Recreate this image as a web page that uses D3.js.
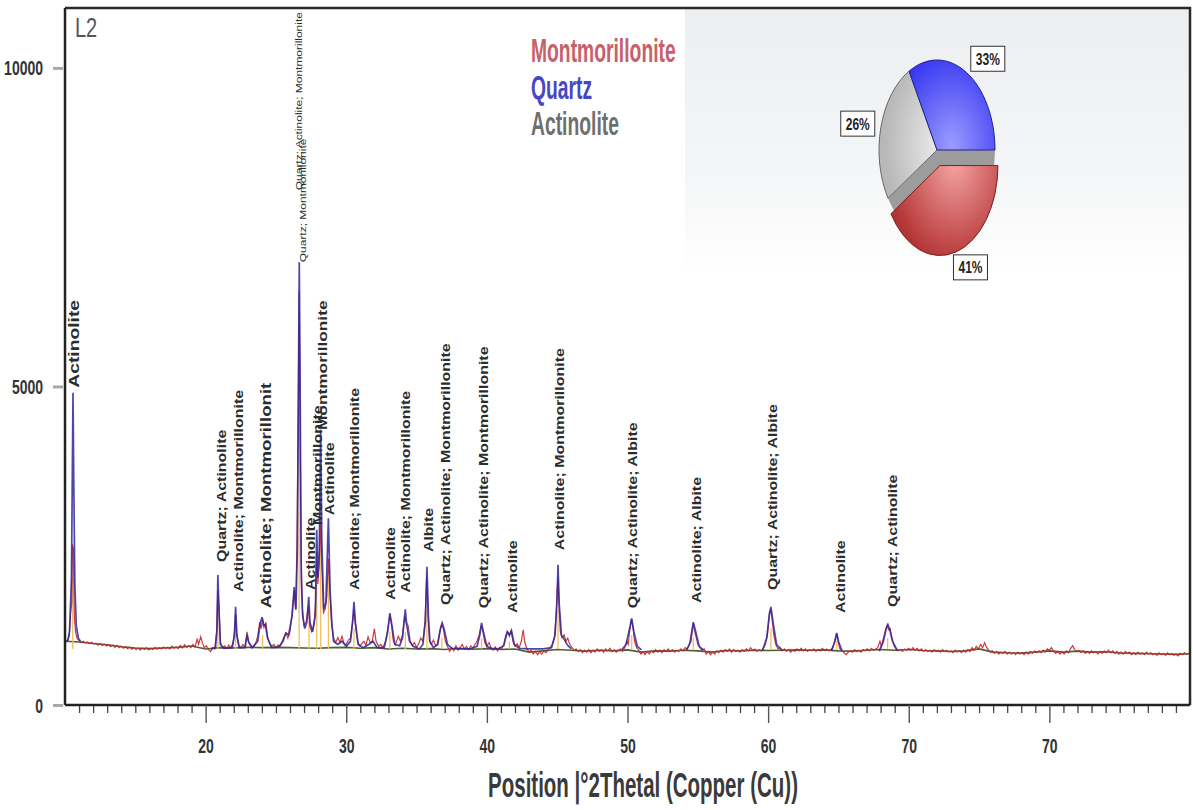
<!DOCTYPE html>
<html>
<head>
<meta charset="utf-8">
<script src="https://cdnjs.cloudflare.com/ajax/libs/d3/7.8.5/d3.min.js"></script>
<style>
body { margin: 0; background: #fff; }
svg { display: block; }
</style>
</head>
<body>
<div id="chart"></div>
<script>
// measured pattern (red), [2theta, counts]
var observed = [
  [10.0,995],[10.15,1010],[10.3,1080],[10.4,1450],[10.48,1600],[10.53,2520],[10.6,2450],[10.66,1400],[10.75,1150],[10.85,1050],
  [11.0,1010],[11.15,985],[11.3,1000],[11.45,975],[11.6,990],[11.75,960],[11.9,985],[12.05,955],[12.2,970],[12.35,940],
  [12.5,965],[12.65,935],[12.8,955],[12.95,925],[13.1,950],[13.25,915],[13.4,940],[13.55,905],[13.7,935],[13.85,900],
  [14.0,925],[14.15,890],[14.3,915],[14.45,885],[14.6,910],[14.75,875],[14.9,900],[15.05,870],[15.2,895],[15.35,865],
  [15.5,890],[15.65,870],[15.8,900],[15.95,865],[16.1,890],[16.25,870],[16.4,905],[16.55,875],[16.7,900],[16.85,880],
  [17.0,910],[17.15,885],[17.3,905],[17.45,880],[17.6,925],[17.75,890],[17.9,915],[18.05,885],[18.2,935],[18.35,895],
  [18.5,945],[18.65,905],[18.8,930],[18.95,900],[19.1,950],[19.25,915],[19.4,1040],[19.5,950],[19.65,1070],[19.75,990],
  [19.9,900],[20.05,930],[20.2,870],[20.35,840],[20.5,900],[20.65,880],[20.78,1150],[20.87,1800],[20.95,1550],[21.05,980],
  [21.2,900],[21.35,930],[21.5,890],[21.65,940],[21.8,900],[21.95,980],[22.05,1150],[22.13,1420],[22.22,1080],[22.35,920],
  [22.5,900],[22.65,950],[22.8,910],[22.95,1150],[23.05,980],[23.2,930],[23.4,900],[23.55,960],[23.7,1080],[23.85,1300],
  [23.95,1200],[24.05,1350],[24.15,1220],[24.28,1300],[24.4,1080],[24.55,960],[24.7,920],[24.85,950],[25.0,900],[25.15,940],
  [25.3,920],[25.45,1000],[25.6,1080],[25.72,1130],[25.85,1050],[26.0,1150],[26.15,1450],[26.3,1800],[26.4,1500],[26.5,2600],
  [26.58,4500],[26.65,6500],[26.71,4800],[26.78,2500],[26.88,1500],[27.0,1250],[27.15,1300],[27.3,1550],[27.4,1250],[27.55,1150],
  [27.7,1250],[27.82,1600],[27.9,2400],[27.98,1900],[28.08,2200],[28.18,2900],[28.26,2200],[28.38,1450],[28.5,1500],[28.62,1700],
  [28.73,2300],[28.85,1700],[28.97,1250],[29.1,1050],[29.25,980],[29.4,1060],[29.55,980],[29.7,1080],[29.85,960],[30.0,950],
  [30.15,1020],[30.3,1050],[30.42,1250],[30.55,1500],[30.65,1250],[30.8,1000],[30.95,930],[31.1,960],[31.25,1000],[31.4,940],
  [31.55,1070],[31.7,980],[31.85,1000],[32.0,1200],[32.12,1000],[32.3,920],[32.45,950],[32.6,900],[32.8,1000],[32.95,1200],
  [33.1,1420],[33.22,1250],[33.35,1000],[33.5,950],[33.7,1080],[33.85,1000],[34.0,1100],[34.15,1400],[34.25,1300],[34.4,1250],
  [34.55,1000],[34.7,930],[34.85,980],[35.0,900],[35.15,960],[35.3,1050],[35.45,1000],[35.6,1300],[35.72,2000],[35.82,1400],
  [35.92,1000],[36.05,950],[36.2,1020],[36.35,930],[36.5,960],[36.65,1150],[36.78,1260],[36.9,1200],[37.05,1000],[37.2,920],
  [37.35,840],[37.5,900],[37.65,850],[37.8,930],[37.95,860],[38.1,900],[38.25,950],[38.4,880],[38.55,920],[38.7,870],
  [38.85,930],[39.0,890],[39.15,950],[39.3,1000],[39.45,1100],[39.6,1250],[39.72,1150],[39.85,980],[40.0,920],[40.15,980],
  [40.3,900],[40.45,860],[40.6,910],[40.75,850],[40.9,900],[41.05,880],[41.2,950],[41.35,1100],[41.48,1150],[41.6,1080],
  [41.72,1170],[41.85,1000],[42.0,920],[42.15,960],[42.3,900],[42.45,1000],[42.58,1180],[42.7,980],[42.85,880],[43.0,830],
  [43.15,860],[43.3,800],[43.45,840],[43.6,790],[43.75,830],[43.9,800],[44.05,850],[44.2,820],[44.35,870],[44.5,900],
  [44.65,950],[44.8,1050],[44.92,1400],[45.0,1800],[45.06,2000],[45.13,1600],[45.22,1150],[45.35,1050],[45.5,1100],[45.62,1000],
  [45.75,1050],[45.9,950],[46.05,900],[46.2,860],[46.35,880],[46.5,840],[46.65,870],[46.8,820],[46.95,860],[47.1,830],
  [47.25,870],[47.4,820],[47.55,860],[47.7,830],[47.85,880],[48.0,840],[48.15,870],[48.3,830],[48.45,880],[48.6,850],
  [48.75,890],[48.9,840],[49.05,870],[49.2,830],[49.35,860],[49.5,880],[49.65,840],[49.8,900],[49.95,1000],[50.05,950],
  [50.15,1150],[50.28,1350],[50.4,1200],[50.5,1000],[50.65,900],[50.8,860],[50.95,800],[51.1,830],[51.25,790],[51.4,840],
  [51.55,800],[51.7,850],[51.85,820],[52.0,870],[52.15,830],[52.3,860],[52.45,820],[52.6,870],[52.75,840],[52.9,880],
  [53.05,840],[53.2,870],[53.35,830],[53.5,860],[53.65,840],[53.8,880],[53.95,850],[54.1,900],[54.25,880],[54.4,950],
  [54.55,1150],[54.68,1280],[54.78,1150],[54.9,1050],[55.0,950],[55.15,900],[55.3,860],[55.45,880],[55.6,800],[55.75,840],
  [55.9,790],[56.05,830],[56.2,800],[56.35,850],[56.5,820],[56.65,860],[56.8,830],[56.95,870],[57.1,840],[57.25,880],
  [57.4,830],[57.55,870],[57.7,840],[57.85,860],[58.0,830],[58.15,870],[58.3,840],[58.45,880],[58.6,850],[58.75,900],
  [58.9,860],[59.05,880],[59.2,840],[59.35,870],[59.5,850],[59.65,890],[59.8,950],[59.95,1100],[60.08,1400],[60.18,1500],
  [60.28,1350],[60.4,1100],[60.55,950],[60.7,880],[60.85,900],[61.0,850],[61.15,880],[61.3,840],[61.45,870],[61.6,830],
  [61.75,860],[61.9,840],[62.05,880],[62.2,850],[62.35,890],[62.5,850],[62.65,880],[62.8,840],[62.95,870],[63.1,850],
  [63.25,880],[63.4,840],[63.55,870],[63.7,850],[63.85,890],[64.0,860],[64.15,880],[64.3,850],[64.45,870],[64.6,900],
  [64.75,1020],[64.87,1120],[64.98,1000],[65.1,880],[65.25,860],[65.4,820],[65.55,790],[65.7,830],[65.85,850],[66.0,830],
  [66.15,870],[66.3,840],[66.45,860],[66.6,830],[66.75,870],[66.9,850],[67.05,880],[67.2,850],[67.35,890],[67.5,860],
  [67.65,880],[67.8,900],[67.95,1000],[68.05,920],[68.2,1050],[68.35,1180],[68.47,1260],[68.57,1180],[68.68,1200],[68.8,1050],
  [68.95,930],[69.1,880],[69.25,850],[69.4,870],[69.55,840],[69.7,880],[69.85,860],[70.0,890],[70.15,860],[70.3,900],
  [70.45,860],[70.6,890],[70.75,850],[70.9,880],[71.05,840],[71.2,870],[71.35,840],[71.5,860],[71.65,830],[71.8,870],
  [71.95,840],[72.1,860],[72.25,830],[72.4,870],[72.55,840],[72.7,860],[72.85,830],[73.0,850],[73.15,820],[73.3,860],
  [73.45,830],[73.6,850],[73.75,820],[73.9,860],[74.05,830],[74.2,870],[74.35,840],[74.5,900],[74.65,860],[74.8,920],
  [74.95,880],[75.1,950],[75.25,900],[75.4,980],[75.5,920],[75.65,870],[75.8,830],[75.95,850],[76.1,810],[76.25,840],
  [76.4,800],[76.55,830],[76.7,810],[76.85,840],[77.0,800],[77.15,830],[77.3,800],[77.45,820],[77.6,790],[77.75,830],
  [77.9,800],[78.05,820],[78.2,790],[78.35,830],[78.5,800],[78.65,840],[78.8,810],[78.95,850],[79.1,820],[79.25,850],
  [79.4,820],[79.55,860],[79.7,830],[79.85,880],[80.0,860],[80.15,900],[80.3,840],[80.45,810],[80.6,840],[80.75,800],
  [80.9,830],[81.05,800],[81.2,850],[81.35,820],[81.5,880],[81.65,930],[81.8,870],[81.95,840],[82.1,860],[82.25,820],
  [82.4,850],[82.55,810],[82.7,840],[82.85,810],[83.0,850],[83.15,820],[83.3,840],[83.45,800],[83.6,840],[83.75,810],
  [83.9,850],[84.05,820],[84.2,860],[84.35,820],[84.5,850],[84.65,810],[84.8,840],[84.95,800],[85.1,830],[85.25,800],
  [85.4,840],[85.55,810],[85.7,830],[85.85,790],[86.0,820],[86.15,790],[86.3,830],[86.45,800],[86.6,820],[86.75,790],
  [86.9,830],[87.05,800],[87.2,820],[87.35,790],[87.5,810],[87.65,780],[87.8,820],[87.95,790],[88.1,810],[88.25,780],
  [88.4,820],[88.55,790],[88.7,810],[88.85,780],[89.0,800],[89.15,770],[89.3,810],[89.45,790],[89.6,820],[89.75,800],[89.9,810]
];

// calculated profile (blue), null breaks the line
var calculated = [
  [10.0,990],[10.2,1010],[10.32,1150],[10.38,1500],[10.46,2000],[10.52,3600],[10.57,4900],[10.62,3600],[10.7,1900],[10.8,1250],[10.95,1050],[11.1,1000],
  null,
  [20.4,880],[20.7,900],[20.8,1150],[20.87,2040],[20.95,1500],[21.05,950],[21.3,890],[21.9,900],[22.05,1100],[22.13,1540],
  [22.22,1100],[22.4,900],[22.8,900],[22.95,1100],[23.05,1000],[23.3,900],[23.7,1000],[23.9,1300],[24.02,1380],[24.12,1250],
  [24.25,1260],[24.4,1050],[24.7,900],[25.2,910],[25.5,1000],[25.7,1130],[25.9,1100],[26.15,1400],[26.3,1850],[26.42,1500],
  [26.52,2400],[26.6,5000],[26.66,6950],[26.72,5000],[26.8,2000],[26.9,1400],[27.05,1200],[27.2,1300],[27.33,1700],[27.42,1300],
  [27.6,1150],[27.8,1400],[27.9,2750],[27.98,2000],[28.08,2400],[28.18,4320],[28.26,2600],[28.4,1500],[28.55,1600],[28.73,2930],
  [28.85,1800],[28.97,1300],[29.1,1000],[29.4,950],[29.7,1000],[30.0,920],[30.3,1000],[30.45,1300],[30.55,1620],[30.65,1300],
  [30.85,950],[31.2,900],[31.6,950],[31.9,1000],[32.2,900],[32.7,900],[32.95,1150],[33.1,1440],[33.25,1250],[33.45,950],
  [33.8,930],[34.0,1050],[34.2,1500],[34.3,1250],[34.5,1000],[34.75,920],[35.2,880],[35.45,950],[35.62,1300],[35.74,2170],
  [35.84,1400],[35.95,1000],[36.2,900],[36.5,950],[36.7,1200],[36.82,1290],[36.95,1200],[37.2,950],[37.5,890],[38.0,880],
  [38.8,880],[39.3,920],[39.5,1100],[39.62,1290],[39.75,1150],[40.0,920],[40.3,890],[40.8,880],[41.2,930],[41.45,1150],
  [41.6,1100],[41.75,1170],[41.95,950],[42.3,890],[43.0,880],[44.0,880],[44.6,900],[44.85,1100],[44.98,1600],[45.06,2200],
  [45.14,1600],[45.3,1100],[45.45,1050],[45.7,950],[46.0,880],
  null,
  [49.6,870],[49.9,950],[50.15,1200],[50.3,1360],[50.45,1150],[50.7,920],[51.0,865],
  null,
  [54.2,860],[54.5,1000],[54.68,1300],[54.85,1150],[55.1,920],[55.4,860],
  null,
  [59.6,855],[59.9,1050],[60.1,1450],[60.2,1540],[60.35,1300],[60.6,950],[61.0,855],
  null,
  [64.5,850],[64.75,1000],[64.88,1130],[65.0,1000],[65.25,850],
  null,
  [67.9,845],[68.2,1000],[68.4,1200],[68.52,1260],[68.65,1180],[68.85,1000],[69.2,850]
];

// fitted background (green)
var background = [
  [10,1000],[11,990],[12,965],[13,945],[14,915],[15,895],[16,885],[17,895],[18,905],[19,925],[20,880],
  [21,900],[22,895],[23,905],[24,900],[25,905],[26,900],[27,895],[28,890],[29,900],[30,905],
  [31,890],[32,900],[33,880],[34,890],[35,880],[36,885],[37,870],[38,890],[39,875],[40,885],
  [41,870],[42,880],[43,830],[44,850],[45,870],[46,860],[47,845],[48,860],[49,850],[50,865],
  [51,830],[52,850],[53,845],[54,860],[55,850],[56,830],[57,855],[58,850],[59,860],[60,855],
  [61,860],[62,865],[63,860],[64,865],[65,850],[66,845],[67,860],[68,870],[69,860],[70,870],
  [71,855],[72,850],[73,840],[74,850],[75,880],[76,830],[77,820],[78,815],[79,830],[80,850],
  [81,830],[82,845],[83,830],[84,835],[85,815],[86,810],[87,805],[88,800],[89,795],[90,805]
];

// reference pattern sticks
var stickTheta  = [10.55, 20.87, 22.13, 24.05, 26.65, 27.35, 27.9, 28.18, 28.73, 30.55, 33.1, 34.2, 35.74, 36.8, 39.62, 41.6, 45.06, 50.3, 54.68, 60.2, 64.88, 68.5];
var stickHeight = [2000, 1500, 1200, 1100, 4700, 1300, 2200, 2500, 2000, 1200, 1150, 1150, 1500, 1050, 1050, 1000, 1500, 1100, 1050, 1200, 1000, 1050];

var labelText = [
  "Actinolite", "Quartz; Actinolite", "Actinolite; Montmorillonite", "Actinolite; Montmorillonit",
  "Quartz; Actinolite; Montmorillonite", "Quartz; Montmorillonite", "Actinolite", "Montmorillonite",
  "Montmorillonite", "Actinolite", "Actinolite; Montmorillonite", "Actinolite",
  "Actinolite; Montmorillonite", "Albite", "Quartz; Actinolite; Montmorillonite", "Quartz; Actinolite; Montmorillonite",
  "Actinolite", "Actinolite; Montmorillonite", "Quartz; Actinolite; Albite", "Actinolite; Albite",
  "Quartz; Actinolite; Albite", "Actinolite", "Quartz; Actinolite"
];
var labelTheta = [10.62, 21.16, 22.37, 24.29, 26.64, 26.89, 27.5, 27.99, 28.28, 28.84, 30.62, 33.18, 34.25, 35.89, 37.09, 39.8, 41.86, 45.2, 50.39, 54.94, 60.35, 65.18, 68.88];
var labelBase  = [4980, 2245, 1775, 1520, 8080, 6950, 1805, 2825, 4316, 2980, 1805, 1650, 1760, 2400, 1570, 1520, 1445, 2430, 1520, 1600, 1805, 1445, 1540];

var yTicks = [0, 5000, 10000];
var xMajorTicks = [20, 30, 40, 50, 60, 70, 80];
var xTickLabels = ["20", "30", "40", "50", "60", "70", "70"];

var legendNames = ["Montmorillonite", "Quartz", "Actinolite"];
var pieNames  = ["Montmorillonite", "Actinolite", "Quartz"];
var pieShares = [41, 26, 33];

(function() {
    var width = 1193,
        height = 810;

    var narrow = "'Liberation Sans Narrow','Arial Narrow',sans-serif";
    var sans = "'Liberation Sans',Arial,sans-serif";
    var SY = 1.4;

    var svg = d3.select("#chart")
        .append("svg")
        .attr("width", width)
        .attr("height", height)

    var x = d3.scaleLinear().domain([10, 90]).range([65, 1190])
    var y = d3.scaleLinear().domain([0, 10940]).range([705, 8])

    var defs = svg.append("defs")

    var bg = defs.append("linearGradient").attr("id", "bgGrad")
        .attr("x1", 0).attr("y1", 0).attr("x2", 0).attr("y2", 1)
    bg.append("stop").attr("offset", 0).attr("stop-color", "#eceef1")
    bg.append("stop").attr("offset", 0.65).attr("stop-color", "#f5f6f7")
    bg.append("stop").attr("offset", 1).attr("stop-color", "#ffffff")

    var sliceColors = {
        "Montmorillonite": ["#f6a4a4", "#b43434", "#7a2020"],
        "Quartz": ["#9c9cff", "#2f2ff2", "#222290"],
        "Actinolite": ["#f7f7f7", "#b8b8b8", "#666666"]
    }
    var legendColors = { "Montmorillonite": "#c86069", "Quartz": "#4747c6", "Actinolite": "#6f6f6f" }

    pieNames.forEach(function(name, i) {
        var g = defs.append("radialGradient").attr("id", "slice" + i)
            .attr("gradientUnits", "userSpaceOnUse")
            .attr("cx", 0.25).attr("cy", -0.05).attr("r", 1.15)
        g.append("stop").attr("offset", 0).attr("stop-color", sliceColors[name][0])
        g.append("stop").attr("offset", 1).attr("stop-color", sliceColors[name][1])
    })

    // pale panel behind the pie
    svg.append("rect")
        .attr("x", 685).attr("y", y.range()[1] + 1)
        .attr("width", x.range()[1] - 685).attr("height", 265)
        .attr("fill", "url(#bgGrad)")

    var line = d3.line()
        .defined(function(d) { return d !== null })
        .x(function(d) { return x(d[0]) })
        .y(function(d) { return y(d[1]) })

    svg.append("path").datum(background)
        .attr("d", line)
        .attr("fill", "none")
        .attr("stroke", "#4f5e34")
        .attr("stroke-width", 1.6)

    svg.selectAll(".stick")
        .data(stickTheta)
        .enter().append("line")
        .attr("class", "stick")
        .attr("x1", function(d) { return x(d) })
        .attr("x2", function(d) { return x(d) })
        .attr("y1", y(880))
        .attr("y2", function(d, i) { return y(stickHeight[i]) })
        .attr("stroke", "#f0c060")
        .attr("stroke-width", 1.3)

    svg.append("path").datum(observed)
        .attr("d", line)
        .attr("fill", "none")
        .attr("stroke", "#c6262c")
        .attr("stroke-width", 1.2)
        .attr("stroke-opacity", 0.9)

    svg.append("path").datum(calculated)
        .attr("d", line)
        .attr("fill", "none")
        .attr("stroke", "#30269a")
        .attr("stroke-width", 1.7)
        .attr("stroke-opacity", 0.85)

    // peak labels
    function labelSize(i) {
        if (i === 0) return 14.5
        if (i === 3) return 14
        if (i === 4 || i === 5) return 9
        if (i === 8) return 13
        return 12
    }

    svg.selectAll(".peak-label")
        .data(labelText)
        .enter().append("text")
        .attr("class", "peak-label")
        .attr("transform", function(d, i) {
            return "translate(" + x(labelTheta[i]) + "," + y(labelBase[i]) + ") rotate(-90) scale(1.33,1)"
        })
        .attr("dy", "0.35em")
        .style("font-family", sans)
        .style("font-size", function(d, i) { return labelSize(i) + "px" })
        .style("font-weight", function(d, i) { return (i === 4 || i === 5) ? "normal" : "bold" })
        .attr("fill", "#2c2c2c")
        .text(function(d) { return d })

    // frame
    svg.append("path")
        .attr("d", "M" + x.range()[0] + "," + y.range()[1] + "H" + x.range()[1] + "V" + y.range()[0])
        .attr("fill", "none")
        .attr("stroke", "#2a2a2a")
        .attr("stroke-width", 2.5)

    // x axis
    var minorTicks = d3.range(11, 90).filter(function(v) { return v % 10 !== 0 })

    var gMinor = svg.append("g")
        .attr("transform", "translate(0," + y(0) + ")")
        .call(d3.axisBottom(x).tickValues(minorTicks).tickSize(8).tickFormat(""))
    gMinor.select(".domain").remove()
    gMinor.selectAll("line").attr("stroke", "#444").attr("stroke-width", 1.3)

    var gMajor = svg.append("g")
        .attr("transform", "translate(0," + y(0) + ")")
        .call(d3.axisBottom(x).tickValues(xMajorTicks).tickSize(18)
            .tickFormat(function(d, i) { return xTickLabels[i] }))
    gMajor.select(".domain")
        .attr("d", "M" + x.range()[0] + ",0H" + x.range()[1])
        .attr("stroke", "#222").attr("stroke-width", 2.5)
    gMajor.selectAll("line").attr("stroke", "#555").attr("stroke-width", 1.4)
    gMajor.selectAll("text")
        .attr("y", null).attr("dy", null)
        .attr("transform", "translate(0,48) scale(1," + SY + ")")
        .style("font-family", narrow).style("font-size", "14px").style("font-weight", "bold")
        .attr("fill", "#333")

    // y axis
    var gY = svg.append("g")
        .attr("transform", "translate(" + (x.range()[0] - 2) + ",0)")
        .call(d3.axisLeft(y).tickValues(yTicks).tickSize(10).tickFormat(d3.format("d")))
    gY.select(".domain")
        .attr("d", "M2," + y.range()[0] + "V" + y.range()[1])
        .attr("stroke", "#222").attr("stroke-width", 2.5)
    gY.selectAll("line").attr("stroke", "#a8a8a8").attr("stroke-width", 3)
    gY.selectAll("text")
        .attr("x", null).attr("dy", "0.36em")
        .attr("transform", "translate(-20,0) scale(1," + SY + ")")
        .style("font-family", narrow).style("font-size", "14px").style("font-weight", "bold")
        .attr("fill", "#333")

    // axis title
    svg.append("text")
        .attr("transform", "translate(643,797) scale(1,1.7)")
        .attr("text-anchor", "middle")
        .style("font-family", narrow).style("font-size", "20.5px").style("font-weight", "bold")
        .attr("fill", "#3a3a3a")
        .text("Position |\u00b02Thetal (Copper (Cu))")

    svg.append("text")
        .attr("transform", "translate(75,37) scale(1," + SY + ")")
        .style("font-family", narrow).style("font-size", "20px")
        .attr("fill", "#555")
        .text("L2")

    // legend
    svg.selectAll(".legend")
        .data(legendNames)
        .enter().append("text")
        .attr("class", "legend")
        .attr("transform", function(d, i) { return "translate(531," + (62 + i * 36.5) + ") scale(1,1.7)" })
        .style("font-family", narrow).style("font-size", "19.3px").style("font-weight", "bold")
        .attr("fill", function(d) { return legendColors[d] })
        .text(function(d) { return d })

    // pie
    var cx = 937, cy = 150, rx = 58, ry = 90

    var arcs = d3.pie().sort(null)
        .startAngle(Math.PI / 2).endAngle(Math.PI / 2 + 2 * Math.PI)(pieShares)

    var arc = d3.arc().innerRadius(0).outerRadius(1)

    function explode(d) {
        if (pieNames[d.index] !== "Montmorillonite") return [0, 0]
        var mid = (d.startAngle + d.endAngle) / 2
        return [Math.sin(mid) * 0.18 * rx, -Math.cos(mid) * 0.18 * ry]
    }

    var pie = svg.append("g")

    // depth shadow where the slice was pulled out
    arcs.forEach(function(d) {
        if (pieNames[d.index] !== "Montmorillonite") return
        pie.append("path")
            .attr("transform", "translate(" + cx + "," + cy + ") scale(" + rx + "," + ry + ")")
            .attr("d", arc(d))
            .attr("fill", "#9c9c9c")
    })

    pie.selectAll(".slice")
        .data(arcs)
        .enter().append("path")
        .attr("class", "slice")
        .attr("transform", function(d) {
            var o = explode(d)
            return "translate(" + (cx + o[0]) + "," + (cy + o[1]) + ") scale(" + rx + "," + ry + ")"
        })
        .attr("d", arc)
        .attr("fill", function(d) { return "url(#slice" + d.index + ")" })
        .attr("stroke", function(d) { return sliceColors[pieNames[d.index]][2] })
        .attr("stroke-width", 1)
        .attr("vector-effect", "non-scaling-stroke")

    var tags = pie.selectAll(".tag")
        .data(arcs)
        .enter().append("g")
        .attr("class", "tag")
        .attr("transform", function(d) {
            var o = explode(d)
            var mid = (d.startAngle + d.endAngle) / 2
            return "translate(" + (cx + 6 + o[0] + Math.sin(mid) * 88) + "," + (cy + o[1] - Math.cos(mid) * 106) + ")"
        })

    tags.append("rect")
        .attr("x", -17).attr("y", -12.5)
        .attr("width", 34).attr("height", 25)
        .attr("fill", "#fff")
        .attr("stroke", "#333")
        .attr("stroke-width", 1)

    tags.append("text")
        .attr("transform", "translate(0,6) scale(1," + SY + ")")
        .attr("text-anchor", "middle")
        .style("font-family", narrow).style("font-size", "12px").style("font-weight", "bold")
        .attr("fill", "#222")
        .text(function(d) { return d.data + "%" })

})();
</script>
</body>
</html>
